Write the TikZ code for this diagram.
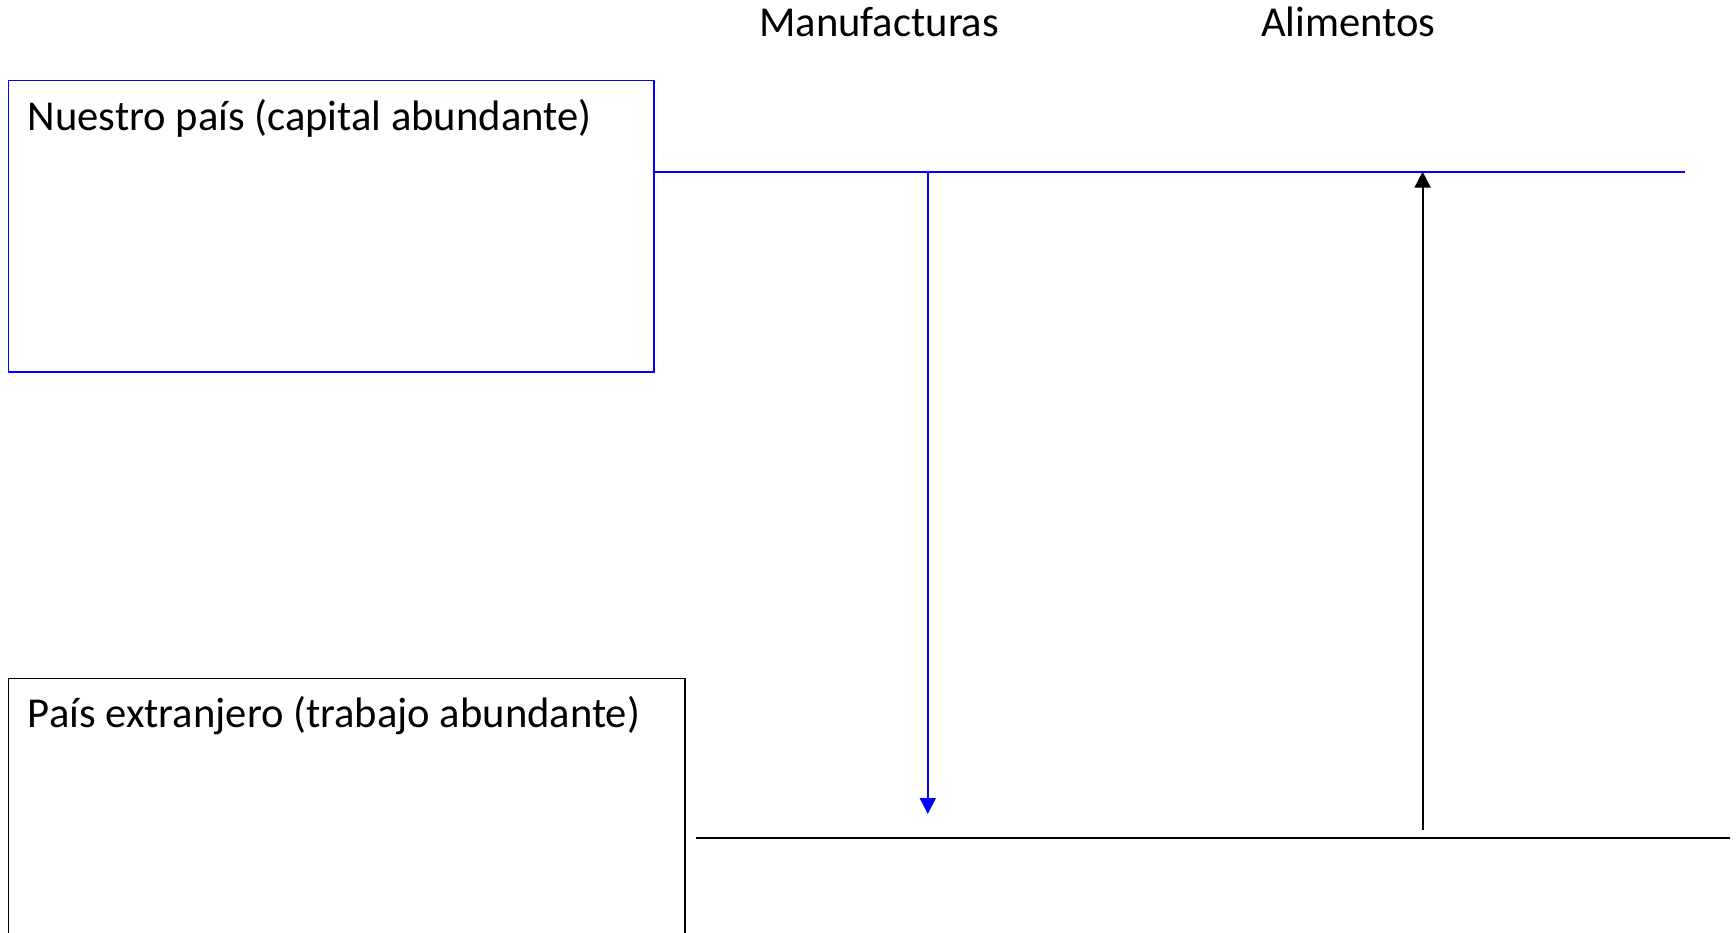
\documentclass[tikz,border=0pt]{standalone}
\usepackage{fontspec}
\setmainfont{Carlito}
\usetikzlibrary{arrows.meta}
\begin{document}
\begin{tikzpicture}[x=1pt,y=-1pt,
  lbl/.style={anchor=base west,inner sep=0pt,font=\fontsize{42.6}{50}\selectfont},
  boxframe/.style={draw,line width=1.6pt,minimum width=#1,inner sep=0pt,anchor=north west},
  tip/.style={-{Triangle[width=16pt,length=16pt]}}]
\useasboundingbox[fill=white] (0,0) rectangle (1736,932);
% titles
\node[lbl] (manu) at (759,36) {Manufacturas};
\node[lbl] (alim) at (1261,36) {Alimentos};
% top box
\node[boxframe=645.5pt,draw=blue,minimum height=291.2pt] (home) at (7.7,79.7) {};
\node[lbl] (homet) at (27.7,130) {Nuestro país (capital abundante)};
% bottom box
\node[boxframe=676.3pt,draw=black,minimum height=300pt] (foreign) at (7.7,677.6) {};
\node[lbl] (foreignt) at (27.7,727.7) {País extranjero (trabajo abundante)};
% lines
\coordinate (hl) at (home.north east |- 0,171.6);
\coordinate (hr) at (1685,171.6);
\draw[blue,line width=1.8pt] (hl) -- (hr);
\coordinate (fl) at (696,838);
\coordinate (fr) at (1730,838);
\draw[black,line width=2pt] (fl) -- (fr);
% arrows
\coordinate (ma) at (927.8,171.6);
\coordinate (mb) at (927.8,814);
\draw[blue,line width=1.8pt,tip] (ma) -- (mb);
\coordinate (aa) at (1422.6,830);
\coordinate (ab) at (1422.6,171.6);
\draw[black,line width=1.8pt,tip] (aa) -- (ab);
\end{tikzpicture}
\end{document}
